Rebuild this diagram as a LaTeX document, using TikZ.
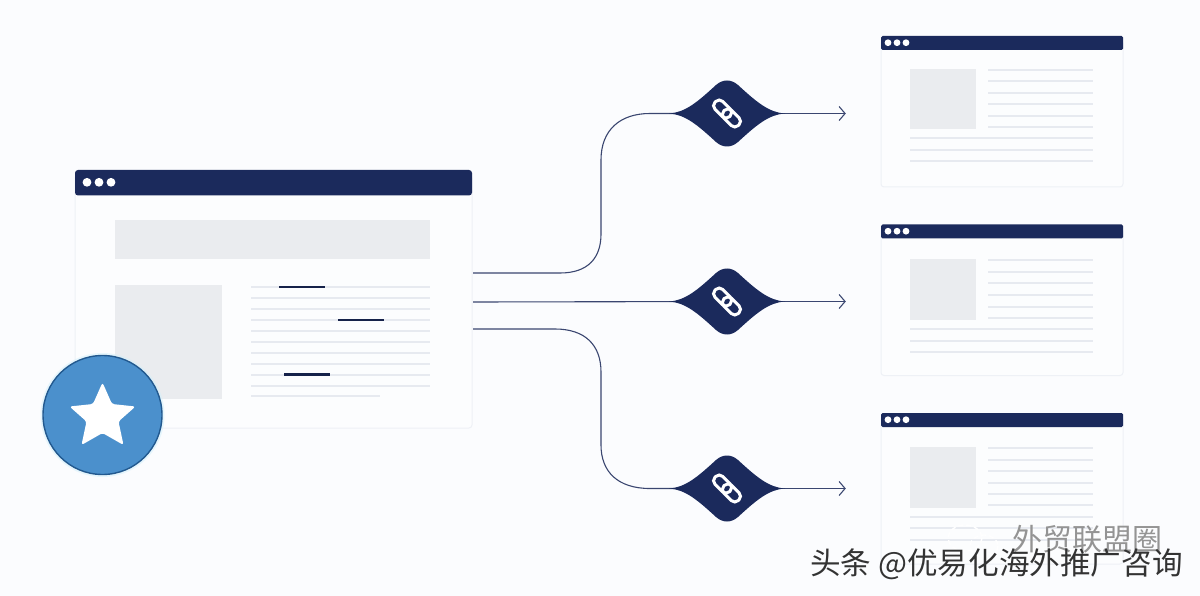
\documentclass[tikz,border=0pt]{standalone}
\usepackage{fontspec}
\newfontfamily\cjk{Noto Sans CJK SC}
\usetikzlibrary{arrows.meta}
\definecolor{pagebg}{HTML}{FBFCFE}
\definecolor{navy}{HTML}{1B2A5C}
\definecolor{wire}{HTML}{3A4670}
\definecolor{winfill}{HTML}{FCFDFE}
\definecolor{winedge}{HTML}{EEF1F6}
\definecolor{block}{HTML}{EAECEF}
\definecolor{rule}{HTML}{E7EAF0}
\definecolor{starblue}{HTML}{4B90CC}
\definecolor{staredge}{HTML}{22598F}
\tikzset{
  x=1pt,y=-1pt,
  winbody/.style={fill=winfill,draw=winedge,line width=1pt,rounded corners=3pt},
  titlebar/.style={fill=navy,draw=none},
  graybox/.style={fill=block,draw=none},
  textrule/.style={draw=rule,line width=2pt},
  darkrule/.style={draw=navy!80!black,line width=2.6pt},
  windot/.style={fill=white,draw=none},
  wirelink/.style={draw=wire,line width=1.1pt},
  arrowlink/.style={wirelink,-{Straight Barb[length=6pt,width=14pt,line width=1.1pt]}},
  linkglyph/.style={draw=white,line width=3pt,rounded corners=5pt},
  anchorpt/.style={inner sep=0pt,minimum size=0pt},
  markfont/.style={anchor=west,inner sep=0pt,font=\cjk\fontsize{#1}{#1}\selectfont},
  bubble/.style={draw=white,line width=1.4pt,dash pattern=on 5pt off 3pt},
}
% #1 shift of frame, #2 shift of contents
\newcommand{\smallwindow}[2]{%
  \begin{scope}[yshift=-#1pt]
    \draw[winbody] (881,40) rectangle (1123,187);
    \fill[titlebar,rounded corners=1.5pt] (881,50) -- (881,36) -- (1123,36) -- (1123,50) -- cycle;
    \foreach \dx in {888,897,906} \fill[windot] (\dx,42.7) circle (3.4);
  \end{scope}
  \begin{scope}[yshift=-#2pt]
    \fill[graybox] (910,69) rectangle (976,129.5);
    \foreach \ry in {70,81.5,93,104.5,116,127} \draw[textrule] (988,\ry) -- (1093,\ry);
    \foreach \ry in {138.5,150,161.5} \draw[textrule] (910,\ry) -- (1093,\ry);
  \end{scope}}
\newcommand{\diamondshape}[2]{%
  \begin{scope}[shift={(#1,#2)}]
    \fill[navy] (-58,0) .. controls (-42,-1) and (-30,-11) .. (-11,-28.5)
      .. controls (-4,-34.5) and (4,-34.5) .. (11,-28.5)
      .. controls (30,-11) and (42,-1) .. (58,0)
      .. controls (42,1) and (30,11) .. (11,28.5)
      .. controls (4,34.5) and (-4,34.5) .. (-11,28.5)
      .. controls (-30,11) and (-42,1) .. (-58,0) -- cycle;
    \begin{scope}[rotate=-45]
      \draw[linkglyph] (-16.5,-5.5) rectangle (4,5.5);
      \draw[linkglyph] (-4,-5.5) rectangle (16.5,5.5);
    \end{scope}
  \end{scope}}
\begin{document}
\begin{tikzpicture}
\useasboundingbox (0,0) rectangle (1200,596);
\fill[pagebg] (0,0) rectangle (1200,596);

% target windows
\smallwindow{0}{0}
\smallwindow{188.5}{190.5}
\smallwindow{377}{378}

% main window
\draw[winbody] (75,175) rectangle (472,428);
\fill[titlebar,rounded corners=3pt] (75,195.5) -- (75,170) -- (472,170) -- (472,195.5) -- cycle;
\foreach \dx in {87,99,111} \fill[windot] (\dx,182.3) circle (4.4);
\fill[graybox] (115,220) rectangle (430,259.5);
\fill[graybox] (115,285) rectangle (222,399);
\foreach \ry in {287,298,309,320,331,342,352.5,363.5,374.5,385.5} \draw[textrule] (251,\ry) -- (430,\ry);
\draw[textrule] (251,396) -- (380,396);
\draw[darkrule] (279,287) -- (325,287);
\draw[darkrule] (338,320) -- (384,320);
\draw[darkrule] (284,374.5) -- (330,374.5);

% badge
\fill[white!70!cyan!60!white,opacity=.5] (102.5,415) circle (62);
\draw[fill=starblue,draw=staredge,line width=1.4pt] (102.5,415) circle (59.5);
\fill[white,rounded corners=2.5pt] (102.5,382.5) -- (112,404) -- (135.5,406.5) -- (118.5,421.5) -- (123.5,445)
  -- (102.5,433) -- (81.5,445) -- (86.5,421.5) -- (69.5,406.5) -- (93,404) -- cycle;

% connector anchors
\node[anchorpt] (s1) at (473,273) {};
\node[anchorpt] (s2) at (473,302) {};
\node[anchorpt] (s3) at (473,329) {};
\node[anchorpt] (d1) at (727,113.5) {};
\node[anchorpt] (d2) at (727,301.5) {};
\node[anchorpt] (d3) at (727,488.5) {};
\node[anchorpt] (t1) at (846,113.5) {};
\node[anchorpt] (t2) at (846,301.5) {};
\node[anchorpt] (t3) at (846,488.5) {};

\draw[wirelink] (s1) -- (560,273) .. controls (588,273) and (601,258) .. (601,234)
  -- (601,160) .. controls (601,130) and (620,113.5) .. (650,113.5) -- (d1);
\draw[wirelink] (s2) -- (d2);
\draw[wirelink] (s3) -- (555,329) .. controls (585,329) and (601,345) .. (601,372)
  -- (601,445) .. controls (601,472) and (618,488.5) .. (650,488.5) -- (d3);
\draw[arrowlink] (d1) -- (t1);
\draw[arrowlink] (d2) -- (t2);
\draw[arrowlink] (d3) -- (t3);

\diamondshape{727}{113.5}
\diamondshape{727}{301.5}
\diamondshape{727}{488.5}

% watermarks
\draw[bubble] (965,538) ellipse (17 and 13);
\draw[bubble] (984,546) ellipse (14 and 11);
\node[markfont=30,text=black!42] (marka) at (1012,539) {外贸联盟圈};
\node[markfont=30.6,text=black!80] (markc) at (810,564) {头条 @优易化海外推广咨询};
\end{tikzpicture}
\end{document}
